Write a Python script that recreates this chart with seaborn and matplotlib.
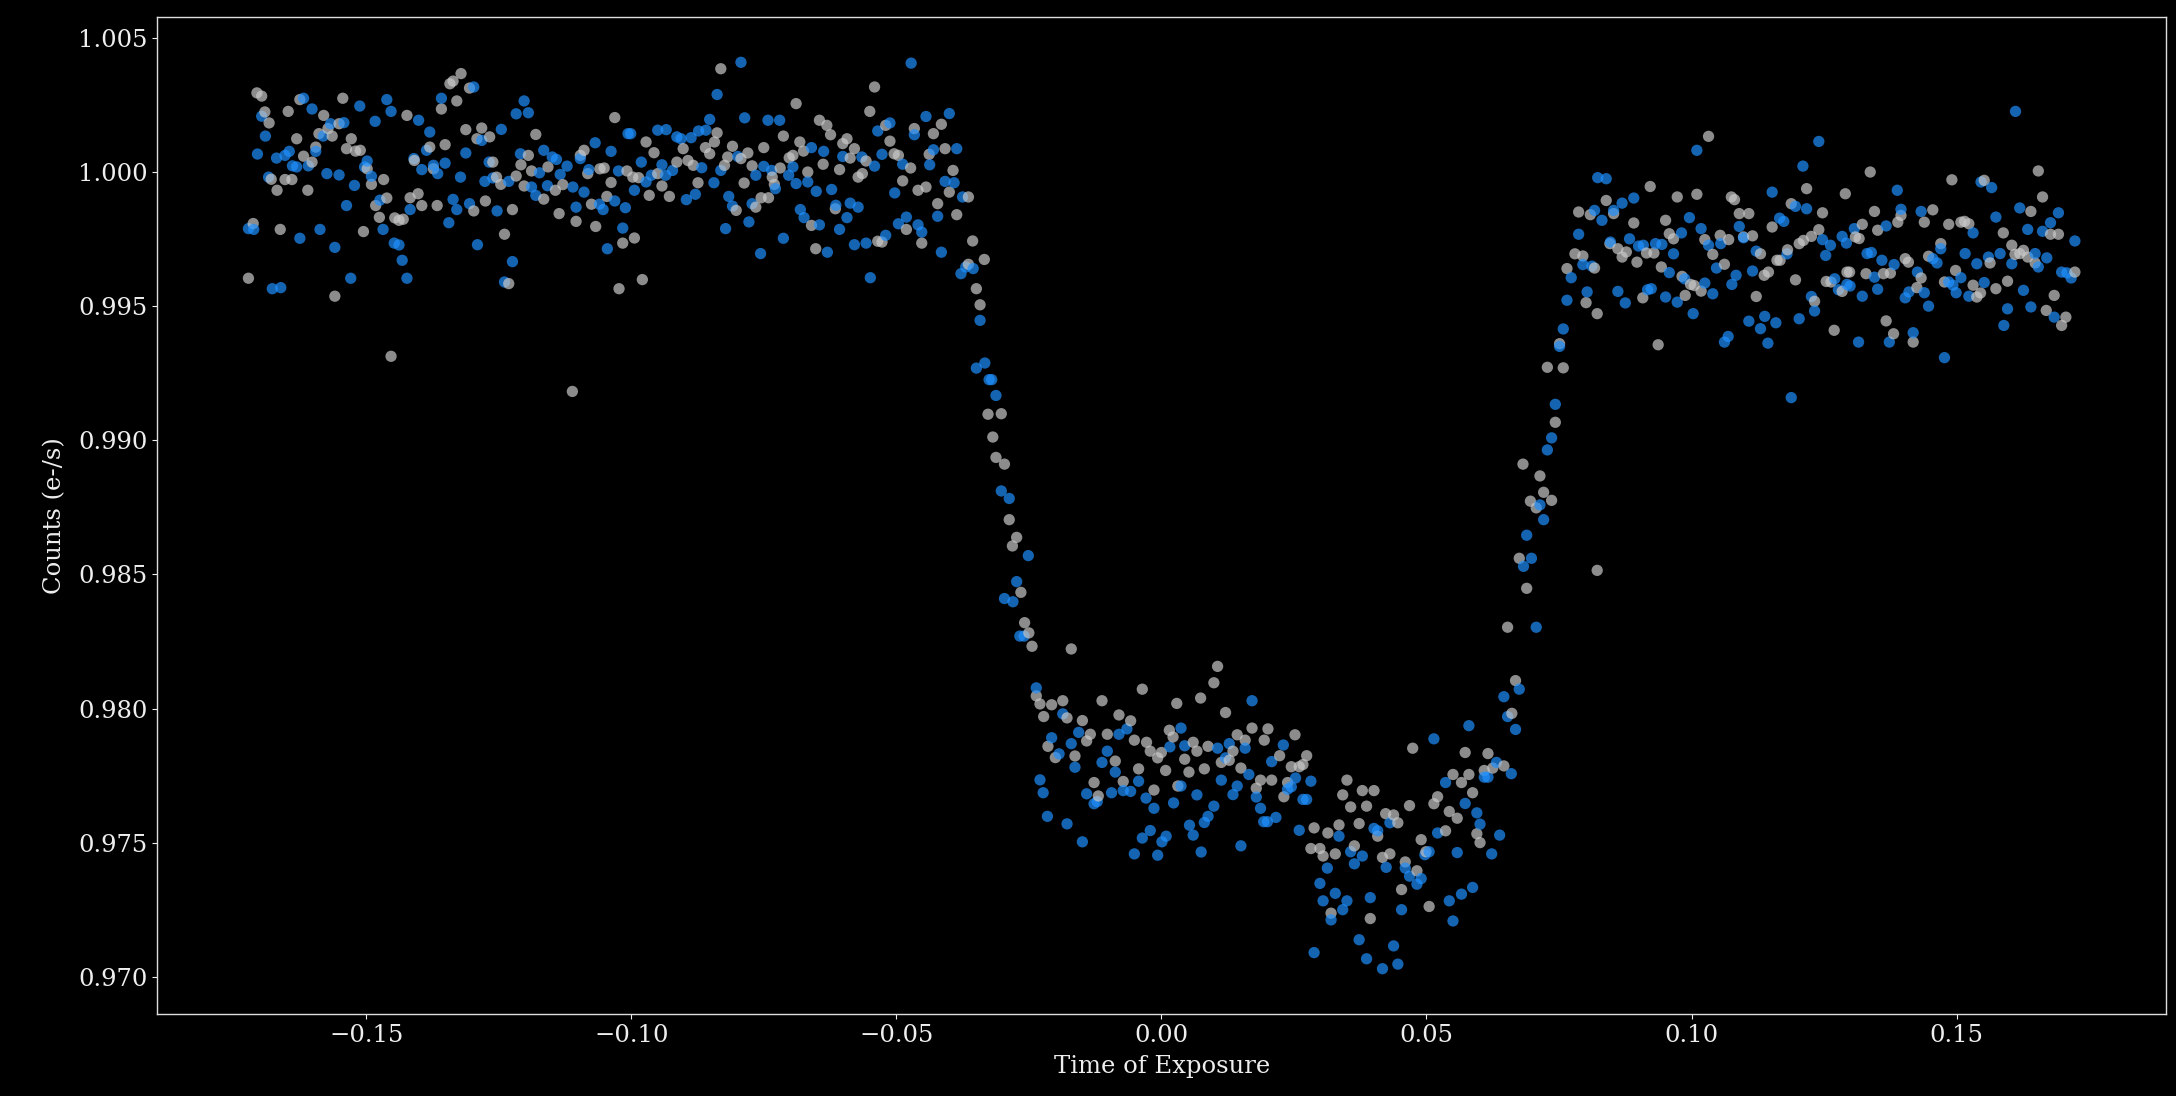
import matplotlib
matplotlib.use("Agg")
import matplotlib.pyplot as plt
import seaborn as sns
import pandas as pd

# ---- data (Time of Exposure, Counts) ----
gray_points = [
    (-0.1713,0.99808),(-0.1722,0.99604),(-0.1706,1.00295),(-0.1697,1.00283),(-0.1691,1.00224),(-0.1683,1.00183),(-0.1679,0.99973),(-0.1668,0.99932),(-0.1662,0.99786),(-0.1653,0.99972),(-0.1640,0.99972),(-0.1647,1.00226),(-0.1631,1.00124),(-0.1618,1.00059),(-0.1625,1.00270),(-0.1610,0.99932),(-0.1602,1.00037),(-0.1595,1.00093),(-0.1589,1.00143),(-0.1580,1.00211),(-0.1572,1.00162),(-0.1564,1.00134),(-0.1559,0.99537),(-0.1551,1.00180),(-0.1544,1.00275),(-0.1537,1.00087),(-0.1528,1.00124),(-0.1520,1.00078),(-0.1511,1.00081),(-0.1505,0.99778),(-0.1498,1.00012),(-0.1490,0.99954),(-0.1467,0.99972),(-0.1482,0.99875),(-0.1461,0.99903),(-0.1475,0.99831),(-0.1453,0.99313),(-0.1446,0.99829),(-0.1438,0.99820),(-0.1430,0.99824),(-0.1423,1.00211),(-0.1417,0.99904),(-0.1402,0.99919),(-0.1395,0.99875),(-0.1409,1.00043),(-0.1380,1.00093),(-0.1373,1.00012),(-0.1366,0.99875),(-0.1358,1.00235),(-0.1351,1.00102),(-0.1342,1.00329),(-0.1336,1.00339),(-0.1321,1.00367),(-0.1329,1.00265),(-0.1312,1.00158),(-0.1297,0.99855),(-0.1305,1.00313),(-0.1291,1.00124),(-0.1282,1.00164),(-0.1267,1.00131),(-0.1275,0.99892),(-0.1261,1.00037),(-0.1254,0.99981),(-0.1246,0.99954),(-0.1239,0.99768),(-0.1231,0.99584),(-0.1224,0.99860),(-0.1217,0.99985),(-0.1208,1.00027),(-0.1194,1.00062),(-0.1202,0.99948),(-0.1188,1.00004),(-0.1180,1.00140),(-0.1165,0.99899),(-0.1157,1.00019),(-0.1143,0.99932),(-0.1136,0.99845),(-0.1129,0.99953),(-0.1111,0.99182),(-0.1104,0.99816),(-0.1096,1.00062),(-0.1089,1.00081),(-0.1082,0.99994),(-0.1075,0.99880),(-0.1067,0.99797),(-0.1059,1.00012),(-0.1051,1.00015),(-0.1046,0.99909),(-0.1038,0.99961),(-0.1031,1.00203),(-0.1023,0.99565),(-0.1016,0.99735),(-0.1008,1.00004),
    (-0.0994,0.99754),(-0.0979,0.99599),(-0.0972,1.00112),(-0.0997,0.99981),(-0.0986,0.99979),(-0.0957,1.00072),(-0.0966,0.99913),(-0.0950,0.99994),(-0.0942,0.99948),(-0.0928,0.99909),(-0.0902,1.00087),(-0.0914,1.00037),(-0.0893,1.00043),(-0.0883,1.00025),(-0.0874,0.99960),(-0.0860,1.00091),(-0.0852,1.00068),(-0.0843,1.00112),(-0.0838,1.00146),(-0.0824,1.00025),(-0.0802,0.99857),(-0.0831,1.00385),(-0.0809,1.00096),(-0.0818,1.00056),(-0.0793,1.00050),(-0.0780,1.00071),(-0.0787,0.99959),(-0.0772,1.00023),(-0.0765,0.99869),(-0.0750,1.00091),(-0.0755,0.99904),(-0.0741,0.99904),(-0.0734,0.99981),(-0.0730,0.99954),(-0.0713,1.00134),(-0.0719,1.00015),(-0.0702,1.00053),(-0.0695,1.00062),(-0.0689,1.00255),(-0.0682,1.00112),(-0.0675,1.00078),(-0.0667,1.00000),(-0.0660,0.99801),(-0.0645,1.00193),(-0.0631,1.00174),(-0.0624,1.00139),(-0.0638,1.00029),(-0.0652,0.99714),(-0.0615,0.99863),(-0.0607,1.00009),(-0.0601,1.00106),(-0.0593,1.00124),(-0.0587,1.00052),(-0.0579,1.00087),(-0.0572,0.99981),(-0.0564,0.99994),(-0.0557,1.00041),(-0.0550,1.00226),(-0.0541,1.00317),(-0.0520,1.00174),(-0.0512,1.00115),(-0.0535,0.99742),(-0.0527,0.99739),(-0.0504,1.00068),(-0.0496,1.00062),(-0.0488,0.99967),(-0.0473,1.00015),(-0.0481,0.99786),(-0.0466,1.00162),(-0.0452,0.99735),(-0.0459,0.99932),(-0.0444,0.99944),(-0.0430,1.00143),(-0.0415,1.00178),(-0.0438,1.00066),(-0.0408,1.00087),(-0.0422,0.99882),(-0.0393,1.00006),(-0.0400,0.99925),(-0.0386,0.99841),(-0.0364,0.99907),(-0.0356,0.99743),(-0.0334,0.99674),(-0.0364,0.99656),(-0.0349,0.99565),(-0.0342,0.99505),(-0.0327,0.99097),(-0.0302,0.99099),(-0.0318,0.99012),
    (-0.0312,0.98936),(-0.0296,0.98911),(-0.0287,0.98704),(-0.0273,0.98638),(-0.0281,0.98606),(-0.0265,0.98433),(-0.0258,0.98320),(-0.0250,0.98282),(-0.0244,0.98232),(-0.0170,0.98222),(-0.0236,0.98047),(-0.0229,0.98017),(-0.0207,0.98014),(-0.0186,0.98029),(-0.0222,0.97970),(-0.0178,0.97965),(-0.0112,0.98029),(-0.0149,0.97955),(-0.0134,0.97904),(-0.0214,0.97859),(-0.0200,0.97817),(-0.0163,0.97823),(-0.0141,0.97879),(-0.0127,0.97724),(-0.0119,0.97674),(-0.0102,0.97904),(-0.0087,0.97804),(-0.0080,0.97976),(-0.0072,0.97728),(-0.0058,0.97954),(-0.0051,0.97882),(-0.0043,0.97775),(-0.0036,0.98072),(-0.0028,0.97874),(-0.0021,0.97841),(-0.0014,0.97696),(-0.0007,0.97816),(0.0008,0.97769),(0.0000,0.97836),(0.0022,0.97894),(0.0015,0.97919),(0.0029,0.98019),(0.0044,0.97811),(0.0031,0.97711),(0.0052,0.97763),(0.0060,0.97874),(0.0067,0.97841),(0.0074,0.98039),(0.0081,0.97775),(0.0088,0.97859),(0.0099,0.98096),(0.0106,0.98157),(0.0113,0.97799),(0.0121,0.97985),(0.0135,0.97841),(0.0128,0.97807),(0.0143,0.97902),(0.0150,0.97778),(0.0158,0.97882),(0.0171,0.97927),(0.0179,0.97703),(0.0187,0.97733),(0.0194,0.97882),(0.0201,0.97924),(0.0208,0.97733),(0.0223,0.97824),(0.0231,0.97671),(0.0238,0.97724),(0.0245,0.97783),(0.0252,0.97902),(0.0260,0.97783),(0.0267,0.97791),(0.0274,0.97824),(0.0282,0.97478),(0.0288,0.97555),(0.0299,0.97478),(0.0305,0.97450),(0.0314,0.97536),(0.0320,0.97237),(0.0328,0.97458),(0.0335,0.97566),(0.0342,0.97678),(0.0350,0.97733),(0.0357,0.97633),(0.0364,0.97488),(0.0373,0.97571),(0.0379,0.97694),(0.0387,0.97636),(0.0394,0.97217),(0.0401,0.97694),(0.0408,0.97524),(0.0417,0.97445),(0.0423,0.97608),(0.0431,0.97458),(0.0438,0.97603),(0.0446,0.97574),(0.0453,0.97325),(0.0460,0.97428),(0.0468,0.97638),(0.0474,0.97852),(0.0482,0.97395),(0.0490,0.97511),(0.0499,0.97466),(0.0505,0.97262),(0.0514,0.97645),(0.0521,0.97671),(0.0536,0.97544),(0.0543,0.97616),(0.0550,0.97754),(0.0558,0.97591),(0.0566,0.97724),(0.0573,0.97836),(0.0580,0.97754),(0.0587,0.97686),(0.0595,0.97533),(0.0601,0.97500),(0.0609,0.97769),(0.0616,0.97832),(0.0625,0.97778),(0.0646,0.97786),(0.0661,0.97982),(0.0668,0.98104),(0.0653,0.98303),(0.0689,0.98448),(0.0675,0.98560),(0.0707,0.98748),(0.0696,0.98773),(0.0721,0.98806),(0.0736,0.98776),(0.0714,0.98867),(0.0682,0.98911),(0.0743,0.99067),(0.0728,0.99272),(0.0758,0.99270),(0.0751,0.99360),(0.0801,0.99513),(0.0822,0.99472),(0.0822,0.98515),
    (0.0765,0.99640),(0.0780,0.99695),(0.0795,0.99687),(0.0817,0.99642),(0.0787,0.99851),(0.0809,0.99841),(0.0839,0.99894),(0.0853,0.99845),(0.0846,0.99733),(0.0861,0.99714),(0.0869,0.99683),(0.0877,0.99702),(0.0891,0.99810),(0.0897,0.99664),(0.0915,0.99698),(0.0929,0.99698),(0.0922,0.99946),(0.0908,0.99531),(0.0943,0.99646),(0.0951,0.99820),(0.0958,0.99770),(0.0966,0.99751),(0.0937,0.99356),(0.0973,0.99907),(0.0982,0.99611),(0.0988,0.99540),(0.0998,0.99581),(0.1005,0.99577),(0.1010,0.99917),(0.1032,1.00133),(0.1018,0.99556),(0.1025,0.99748),(0.1040,0.99693),(0.1054,0.99764),(0.1062,0.99656),(0.1070,0.99748),(0.1075,0.99907),(0.1081,0.99897),(0.1090,0.99845),(0.1108,0.99845),(0.1098,0.99758),(0.1115,0.99762),(0.1122,0.99536),(0.1130,0.99695),(0.1137,0.99615),(0.1145,0.99627),(0.1152,0.99795),(0.1161,0.99671),(0.1167,0.99671),(0.1181,0.99710),(0.1188,0.99882),(0.1196,0.99598),(0.1203,0.99733),(0.1211,0.99745),(0.1217,0.99938),(0.1226,0.99760),(0.1232,0.99518),(0.1240,0.99785),(0.1247,0.99848),(0.1254,0.99592),(0.1263,0.99590),(0.1269,0.99410),(0.1284,0.99555),(0.1290,0.99919),(0.1293,0.99627),
    (0.1298,0.99627),(0.1309,0.99758),(0.1316,0.99752),(0.1322,0.99805),(0.1329,0.99621),(0.1337,1.00000),(0.1345,0.99853),(0.1351,0.99783),(0.1362,0.99621),(0.1367,0.99445),(0.1375,0.99623),(0.1381,0.99397),(0.1395,0.99838),(0.1389,0.99813),(0.1403,0.99677),(0.1409,0.99664),(0.1418,0.99366),(0.1425,0.99569),(0.1433,0.99605),(0.1439,0.99813),(0.1447,0.99686),(0.1455,0.99859),(0.1470,0.99733),(0.1477,0.99590),(0.1485,0.99805),(0.1491,0.99971),(0.1498,0.99633),(0.1508,0.99813),(0.1515,0.99816),(0.1523,0.99807),(0.1531,0.99578),(0.1538,0.99534),(0.1545,0.99549),(0.1552,0.99969),(0.1563,0.99661),(0.1574,0.99565),(0.1588,0.99773),(0.1596,0.99593),(0.1604,0.99727),(0.1610,0.99693),(0.1619,0.99696),(0.1626,0.99708),(0.1634,0.99683),(0.1640,0.99853),(0.1648,0.99661),(0.1654,1.00004),(0.1662,0.99907),(0.1669,0.99484),(0.1677,0.99768),(0.1684,0.99540),(0.1692,0.99768),(0.1698,0.99428),(0.1706,0.99459),(0.1723,0.99627),
]

blue_points = [
    (-0.1722,0.99789),(-0.1712,0.99786),(-0.1697,1.00208),(-0.1690,1.00134),(-0.1705,1.00067),(-0.1684,0.99981),(-0.1669,1.00052),(-0.1653,1.00062),(-0.1645,1.00077),(-0.1677,0.99565),(-0.1661,0.99569),(-0.1639,1.00023),(-0.1631,1.00019),(-0.1625,0.99753),(-0.1618,1.00275),(-0.1602,1.00235),(-0.1609,1.00023),(-0.1595,1.00077),(-0.1581,1.00134),(-0.1567,1.00180),(-0.1587,0.99786),(-0.1574,0.99994),(-0.1559,0.99719),(-0.1551,0.99989),(-0.1542,1.00184),(-0.1537,0.99875),(-0.1529,0.99604),(-0.1522,0.99950),(-0.1512,1.00246),(-0.1503,1.00019),(-0.1498,1.00041),(-0.1490,0.99984),(-0.1483,1.00189),(-0.1474,0.99895),(-0.1468,0.99786),(-0.1461,1.00270),(-0.1453,1.00226),(-0.1447,0.99735),(-0.1438,0.99728),(-0.1432,0.99671),(-0.1423,0.99604),(-0.1417,0.99860),(-0.1410,1.00050),(-0.1401,1.00193),(-0.1395,1.00009),(-0.1386,1.00081),(-0.1380,1.00149),(-0.1373,1.00025),(-0.1365,0.99994),(-0.1358,1.00275),(-0.1351,1.00033),(-0.1344,0.99811),(-0.1336,0.99898),(-0.1329,0.99860),(-0.1322,0.99981),(-0.1312,1.00071),(-0.1305,0.99882),(-0.1297,1.00317),(-0.1290,0.99729),(-0.1282,1.00118),(-0.1276,0.99965),(-0.1268,1.00037),(-0.1261,0.99978),(-0.1245,1.00159),(-0.1253,0.99855),(-0.1239,0.99590),(-0.1224,0.99666),(-0.1231,0.99965),(-0.1217,1.00217),(-0.1202,1.00265),(-0.1194,1.00221),(-0.1209,1.00068),(-0.1188,0.99944),(-0.1180,0.99913),(-0.1173,0.99997),(-0.1165,1.00081),(-0.1149,1.00056),(-0.1141,1.00047),(-0.1158,0.99949),(-0.1134,0.99991),(-0.1121,1.00022),(-0.1110,0.99944),(-0.1104,0.99869),(-0.1089,0.99925),(-0.1096,1.00050),(-0.1080,1.00009),(-0.1068,1.00109),(-0.1060,0.99880),(-0.1053,0.99860),(-0.1045,0.99714),(-0.1038,1.00077),(-0.1031,0.99892),(-0.1024,1.00004),(-0.1016,0.99791),(-0.1011,0.99867),(-0.1006,1.00143),
    (-0.1001,1.00143),(-0.0994,0.99932),(-0.0981,1.00037),(-0.0972,0.99963),(-0.0962,0.99988),(-0.0950,1.00156),(-0.0934,1.00158),(-0.0942,1.00027),(-0.0935,0.99988),(-0.0922,1.00006),(-0.0914,1.00131),(-0.0906,1.00124),(-0.0896,0.99897),(-0.0887,1.00128),(-0.0879,0.99917),(-0.0873,1.00153),(-0.0867,1.00016),(-0.0859,1.00156),(-0.0852,1.00196),(-0.0844,0.99960),(-0.0831,1.00006),(-0.0816,0.99909),(-0.0809,0.99873),(-0.0822,0.99789),(-0.0838,1.00289),(-0.0793,1.00409),(-0.0799,1.00058),(-0.0786,1.00202),(-0.0772,0.99882),(-0.0778,0.99814),(-0.0765,0.99988),(-0.0750,1.00021),(-0.0735,1.00006),(-0.0728,0.99938),(-0.0756,0.99696),(-0.0742,1.00193),(-0.0720,1.00193),(-0.0713,0.99753),(-0.0703,0.99988),(-0.0695,1.00019),(-0.0689,0.99957),(-0.0667,0.99963),(-0.0681,0.99860),(-0.0674,0.99830),(-0.0660,1.00091),(-0.0651,0.99928),(-0.0645,0.99803),(-0.0637,1.00077),(-0.0630,0.99701),(-0.0622,0.99935),(-0.0614,0.99876),(-0.0607,0.99786),(-0.0601,1.00058),(-0.0593,0.99830),(-0.0587,0.99884),(-0.0572,0.99869),(-0.0579,0.99729),(-0.0557,0.99735),(-0.0565,1.00056),(-0.0541,1.00022),(-0.0549,0.99606),(-0.0535,1.00153),(-0.0527,1.00066),(-0.0512,1.00183),(-0.0520,0.99764),(-0.0503,0.99922),(-0.0488,1.00029),(-0.0496,0.99807),(-0.0481,0.99832),(-0.0472,1.00406),(-0.0466,1.00139),(-0.0459,0.99803),(-0.0452,0.99776),(-0.0444,1.00207),(-0.0400,1.00218),(-0.0430,1.00083),(-0.0437,1.00027),(-0.0386,1.00087),(-0.0422,0.99835),(-0.0415,0.99701),(-0.0408,0.99965),(-0.0391,0.99960),(-0.0375,0.99907),(-0.0378,0.99621),(-0.0369,0.99646),(-0.0355,0.99640),(-0.0342,0.99447),(-0.0349,0.99269),(-0.0333,0.99288),(-0.0325,0.99226),(-0.0320,0.99226),(-0.0312,0.99167),
    (-0.0302,0.98811),(-0.0287,0.98783),(-0.0251,0.98570),(-0.0273,0.98473),(-0.0296,0.98410),(-0.0280,0.98398),(-0.0267,0.98270),(-0.0259,0.98270),(-0.0236,0.98077),(-0.0186,0.97980),(-0.0207,0.97891),(-0.0156,0.97911),(-0.0170,0.97869),(-0.0193,0.97831),(-0.0163,0.97781),(-0.0229,0.97734),(-0.0223,0.97686),(-0.0215,0.97598),(-0.0178,0.97570),(-0.0149,0.97503),(-0.0141,0.97682),(-0.0127,0.97645),(-0.0121,0.97653),(-0.0112,0.97799),(-0.0102,0.97841),(-0.0080,0.97904),(-0.0094,0.97686),(-0.0072,0.97694),(-0.0087,0.97763),(-0.0065,0.97924),(-0.0058,0.97691),(-0.0043,0.97729),(-0.0029,0.97666),(-0.0014,0.97628),(-0.0021,0.97545),(-0.0036,0.97517),(-0.0051,0.97458),(-0.0007,0.97453),(0.0001,0.97503),(0.0009,0.97524),(0.0016,0.97857),(0.0037,0.97927),(0.0044,0.97861),(0.0023,0.97648),(0.0037,0.97711),(0.0053,0.97565),(0.0060,0.97528),(0.0067,0.97678),(0.0075,0.97465),(0.0081,0.97575),(0.0088,0.97598),(0.0099,0.97636),(0.0106,0.97852),(0.0113,0.97733),(0.0121,0.97816),(0.0128,0.97869),(0.0135,0.97679),(0.0143,0.97711),(0.0150,0.97488),(0.0158,0.97852),(0.0165,0.97754),(0.0171,0.98029),(0.0179,0.97670),(0.0187,0.97628),(0.0193,0.97578),(0.0200,0.97578),(0.0208,0.97802),(0.0216,0.97594),(0.0230,0.97864),(0.0238,0.97699),(0.0245,0.97708),(0.0253,0.97741),(0.0260,0.97546),(0.0267,0.97661),(0.0274,0.97661),(0.0282,0.97729),(0.0288,0.97090),(0.0299,0.97348),(0.0305,0.97283),(0.0313,0.97405),(0.0320,0.97212),(0.0328,0.97311),(0.0335,0.97524),(0.0342,0.97250),(0.0350,0.97283),(0.0357,0.97466),(0.0364,0.97421),(0.0373,0.97138),(0.0379,0.97450),(0.0387,0.97067),(0.0394,0.97295),(0.0401,0.97553),(0.0408,0.97544),(0.0417,0.97030),(0.0424,0.97408),(0.0431,0.97574),(0.0438,0.97115),(0.0446,0.97047),(0.0453,0.97250),(0.0460,0.97405),(0.0468,0.97375),(0.0482,0.97345),(0.0490,0.97366),(0.0497,0.97455),(0.0505,0.97466),(0.0514,0.97887),(0.0521,0.97536),(0.0536,0.97724),(0.0543,0.97283),(0.0550,0.97208),(0.0558,0.97463),(0.0566,0.97308),(0.0573,0.97646),(0.0580,0.97936),(0.0587,0.97333),(0.0595,0.97611),(0.0601,0.97569),(0.0609,0.97744),(0.0616,0.97744),(0.0632,0.97799),(0.0623,0.97458),(0.0638,0.97528),(0.0660,0.97757),(0.0646,0.98044),(0.0653,0.97970),(0.0668,0.97922),(0.0675,0.98072),(0.0707,0.98303),(0.0683,0.98530),(0.0698,0.98560),(0.0689,0.98646),(0.0721,0.98704),(0.0714,0.98759),(0.0728,0.98964),(0.0736,0.99009),(0.0743,0.99134),(0.0751,0.99350),(0.0758,0.99415),(0.0765,0.99522),
    (0.0773,0.99606),(0.0795,0.99655),(0.0812,0.99649),(0.0803,0.99553),(0.0787,0.99768),(0.0817,0.99857),(0.0831,0.99820),(0.0823,0.99979),(0.0839,0.99975),(0.0853,0.99857),(0.0869,0.99884),(0.0891,0.99903),(0.0847,0.99739),(0.0883,0.99751),(0.0900,0.99724),(0.0909,0.99727),(0.0932,0.99733),(0.0944,0.99730),(0.0861,0.99555),(0.0875,0.99512),(0.0917,0.99561),(0.0924,0.99565),(0.0951,0.99534),(0.0958,0.99625),(0.0966,0.99695),(0.0973,0.99515),(0.0981,0.99773),(0.0987,0.99602),(0.0996,0.99830),(0.1003,0.99472),(0.1010,1.00081),(0.1018,0.99789),(0.1025,0.99586),(0.1032,0.99727),(0.1040,0.99546),(0.1047,0.99642),(0.1055,0.99733),(0.1069,0.99387),(0.1062,0.99366),(0.1076,0.99581),(0.1084,0.99615),(0.1090,0.99797),(0.1098,0.99755),(0.1108,0.99444),(0.1115,0.99631),(0.1122,0.99705),(0.1130,0.99416),(0.1138,0.99462),(0.1144,0.99362),(0.1152,0.99925),(0.1159,0.99438),(0.1166,0.99828),(0.1174,0.99816),(0.1180,0.99695),(0.1188,0.99159),(0.1196,0.99872),(0.1203,0.99453),(0.1210,1.00022),(0.1217,0.99863),(0.1226,0.99536),(0.1232,0.99482),(0.1240,1.00114),(0.1247,0.99748),(0.1253,0.99689),(0.1262,0.99727),(0.1270,0.99602),(0.1277,0.99561),(0.1284,0.99760),(0.1292,0.99735),(0.1293,0.99581),
    (0.1299,0.99575),(0.1307,0.99789),(0.1322,0.99537),(0.1315,0.99366),(0.1331,0.99696),(0.1339,0.99700),(0.1345,0.99608),(0.1351,0.99563),(0.1359,0.99671),(0.1367,0.99799),(0.1373,0.99366),(0.1382,0.99655),(0.1388,0.99932),(0.1395,0.99861),(0.1403,0.99531),(0.1410,0.99553),(0.1418,0.99401),(0.1426,0.99627),(0.1433,0.99853),(0.1439,0.99550),(0.1447,0.99500),(0.1455,0.99677),(0.1463,0.99661),(0.1470,0.99714),(0.1477,0.99308),(0.1485,0.99590),(0.1493,0.99578),(0.1499,0.99550),(0.1508,0.99606),(0.1516,0.99696),(0.1523,0.99537),(0.1531,0.99773),(0.1538,0.99658),(0.1546,0.99963),(0.1566,0.99942),(0.1552,0.99588),(0.1560,0.99683),(0.1574,0.99832),(0.1582,0.99696),(0.1596,0.99490),(0.1589,0.99428),(0.1604,0.99658),(0.1611,1.00226),(0.1619,0.99866),(0.1626,0.99559),(0.1634,0.99786),(0.1640,0.99497),(0.1648,0.99696),(0.1654,0.99646),(0.1662,0.99779),(0.1670,0.99680),(0.1677,0.99811),(0.1684,0.99459),(0.1692,0.99848),(0.1698,0.99627),(0.1708,0.99624),(0.1716,0.99605),(0.1723,0.99743),
]

series_colors = {"gray": "#c8c8c8", "blue": "#1e90ff"}
x_label = "Time of Exposure"
y_label = "Counts (e-/s)"

# ---- build a long table ----
rows = [(t, c, "gray") for t, c in gray_points] + [(t, c, "blue") for t, c in blue_points]
df = pd.DataFrame(rows, columns=["time", "counts", "series"]).sort_values("time", kind="stable")

plt.style.use("dark_background")
plt.rcParams["font.family"] = ["DejaVu Serif"]
plt.rcParams["font.size"] = 17.5

fig = plt.figure(figsize=(21.76, 10.96), dpi=100, facecolor="black")
ax = fig.add_axes([0.0722, 0.0748, 0.9233, 0.9097])
ax.set_facecolor("black")

sns.scatterplot(data=df, x="time", y="counts", hue="series", palette=series_colors,
                s=66, alpha=0.7, linewidth=0, edgecolor="none", legend=False, ax=ax)

ax.set_xlabel(x_label, fontsize=17.5, color="#eeeeee", labelpad=6)
ax.set_ylabel(y_label, fontsize=17.5, color="#eeeeee", labelpad=8)
ax.tick_params(colors="#eeeeee", labelsize=17.5)
for sp in ax.spines.values():
    sp.set_color("#dddddd")
    sp.set_linewidth(1.0)

fig.savefig("out.png", dpi=100, facecolor="black")
